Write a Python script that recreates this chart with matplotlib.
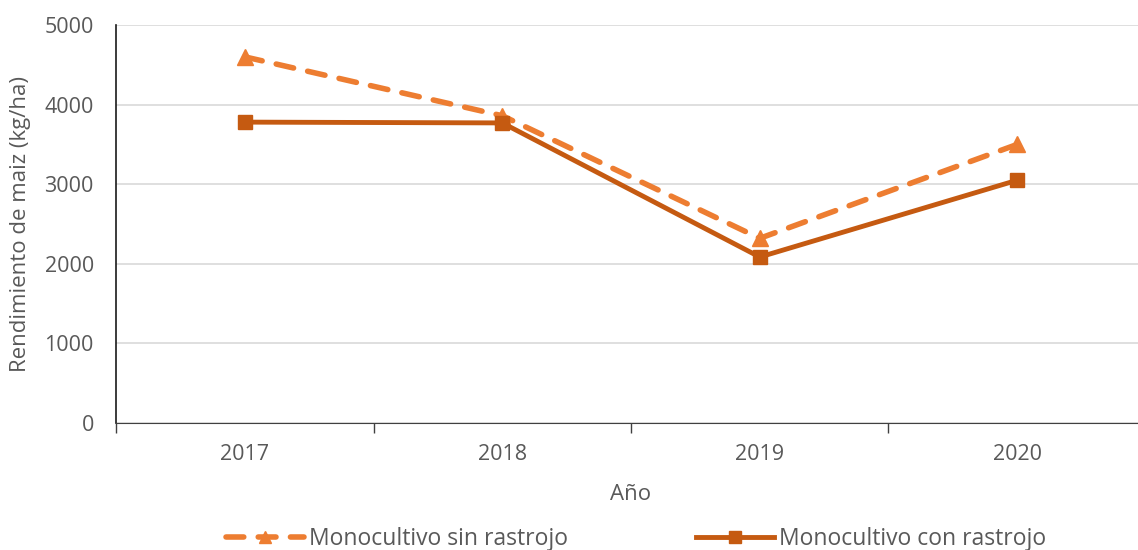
import matplotlib.pyplot as plt
import numpy as np

years = ['2017', '2018', '2019', '2020']
sin_rastrojo = [4600, 3860, 2320, 3500]
con_rastrojo = [3780, 3770, 2085, 3050]

plt.rcParams['font.family'] = ['Open Sans', 'DejaVu Sans']
gray = '#595959'

fig = plt.figure(figsize=(11.38, 5.5), dpi=100)
ax = fig.add_axes([0.102, 0.231, 0.905, 0.7235])

x = np.arange(len(years))
ax.plot(x, sin_rastrojo, color='#ED7D31', lw=4, ls=(0, (3.2, 2.6)),
        marker='^', ms=11, dash_capstyle='round', label='Monocultivo sin rastrojo')
ax.plot(x, con_rastrojo, color='#C55A11', lw=3.5,
        marker='s', ms=10, label='Monocultivo con rastrojo')

ax.set_xlim(-0.5, 3.5)
ax.set_ylim(0, 5000)
ax.set_yticks(range(0, 5001, 1000))
ax.set_xticks(x)
ax.set_xticklabels(years)
ax.set_xticks(np.arange(-0.5, 3.6, 1), minor=True)
ax.tick_params(axis='x', which='major', length=0, pad=15, labelsize=15.5, labelcolor=gray)
ax.tick_params(axis='x', which='minor', length=7, width=1, direction='out', color='#404040')
ax.tick_params(axis='y', length=0, pad=16, labelsize=15.5, labelcolor=gray)

ax.grid(axis='y', color='#D9D9D9', lw=1.2)
ax.set_axisbelow(True)
for s in ['top', 'right']:
    ax.spines[s].set_visible(False)
ax.spines['left'].set_color('#1a1a1a')
ax.spines['bottom'].set_color('#404040')
ax.spines['left'].set_linewidth(1.2)

ax.set_xlabel('Año', fontsize=16, color=gray, labelpad=14)
ax.set_ylabel('Rendimiento de maiz (kg/ha)', fontsize=16, color=gray, labelpad=10)

fig.legend(loc='lower center', bbox_to_anchor=(0.559, -0.04), ncol=2, frameon=False,
           fontsize=16.5, handlelength=3.4, columnspacing=5.6, labelcolor=gray,
           handletextpad=0.2, markerscale=0.85)

fig.savefig('out.png', dpi=100)
